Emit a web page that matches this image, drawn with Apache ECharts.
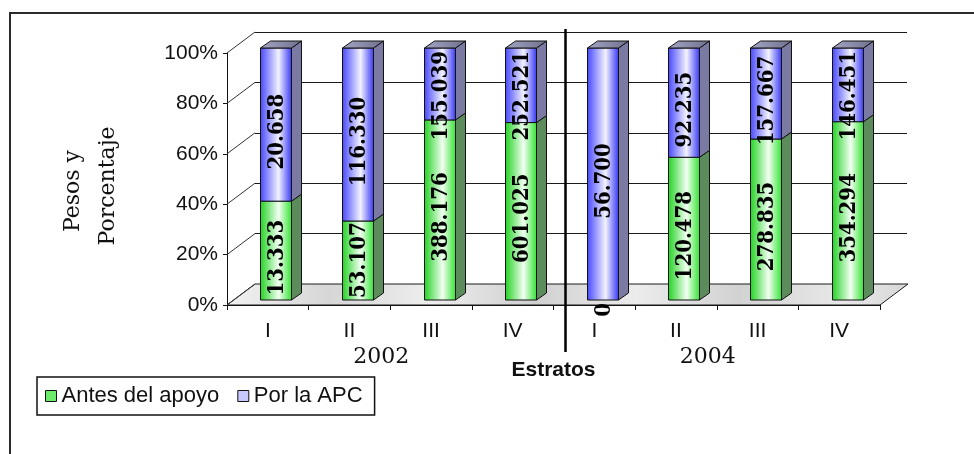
<!DOCTYPE html>
<html>
<head>
<meta charset="utf-8">
<script src="https://cdn.jsdelivr.net/npm/echarts@6/dist/echarts.min.js"></script>
<style>
  html, body { margin: 0; padding: 0; background: #fff; }
  #main { width: 974px; height: 454px; }
</style>
</head>
<body>
<div id="main"></div>
<script>
// Strata per year (2002 block, then 2004 block)
const categories = ['I', 'II', 'III', 'IV', 'I', 'II', 'III', 'IV'];
const years = ['2002', '2004'];
// Pesos before the support and contributed by the APC
const antesDelApoyo = [13333, 53107, 388176, 601025, 0, 120478, 278835, 354294];
const porLaAPC = [20658, 116330, 155039, 252521, 56700, 92235, 157667, 146451];
const yTicks = [0, 20, 40, 60, 80, 100];

// 100% stacking: share of each part within its stratum
const shareAntes = antesDelApoyo.map((a, i) => a / (a + porLaAPC[i]) * 100);

const DX = 28, DY = 21;          // depth of the 3D box (side wall / floor)
const BAR_OX = 8, BAR_OY = -5;   // bar front face pushed into depth
const BAR_DX = 10, BAR_DY = -7;  // bar thickness in depth

const LABEL_FAMILY = '"DejaVu Serif Condensed", "DejaVu Serif", serif';
const LABEL_SIZE = 22;
const measureCtx = document.createElement('canvas').getContext('2d');
measureCtx.font = 'bold ' + LABEL_SIZE + 'px ' + LABEL_FAMILY;

const chart = echarts.init(document.getElementById('main'));

function fmt(n) {
  return String(n).replace(/\B(?=(\d{3})+(?!\d))/g, '.');
}

function barRenderer(faceStops, sideColor) {
  return function (params, api) {
    const i = api.value(0), s = api.value(1), e = api.value(2), raw = api.value(3);
    const band = api.size([1, 0])[0];
    const w = Math.round(band * 0.38);
    const pb = api.coord([i, s]);
    const pt = api.coord([i, e]);
    const xL = Math.round(pb[0] - w / 2 + BAR_OX) + 0.5;
    const xR = xL + w;
    const yB = pb[1] + BAR_OY;
    const yT = pt[1] + BAR_OY;
    const children = [];
    if (yB - yT > 0.5) {
      children.push({
        type: 'polygon',
        shape: { points: [[xR, yT], [xR + BAR_DX, yT + BAR_DY], [xR + BAR_DX, yB + BAR_DY], [xR, yB]] },
        style: { fill: sideColor, stroke: '#111', lineWidth: 1 }
      });
      children.push({
        type: 'rect',
        shape: { x: xL, y: yT, width: w, height: yB - yT },
        style: {
          fill: new echarts.graphic.LinearGradient(0, 0, 1, 0, faceStops),
          stroke: '#111', lineWidth: 1
        }
      });
      if (e >= 99.999) {
        children.push({
          type: 'polygon',
          shape: { points: [[xL, yT], [xL + BAR_DX, yT + BAR_DY], [xR + BAR_DX, yT + BAR_DY], [xR, yT]] },
          style: {
            fill: new echarts.graphic.LinearGradient(0, 0, 1, 0, [
              { offset: 0, color: '#a4a4c4' }, { offset: 1, color: '#70708e' }
            ]),
            stroke: '#111', lineWidth: 1
          }
        });
      }
    }
    // value label, rotated; kept off the bar's base and top ends
    const text = fmt(raw);
    const len = measureCtx.measureText(text).width;
    let cy;
    if (raw === 0) {
      cy = yB + len / 2 + 3;
    } else {
      cy = (yT + yB) / 2 + 7;
      if (s <= 0.001) cy = Math.min(cy, yB - len / 2 - 2);
      if (e >= 99.999) cy = Math.max(cy, yT + len / 2 + 3);
    }
    children.push({
      type: 'text',
      x: xL + w / 2 + 1,
      y: cy,
      rotation: Math.PI / 2,
      style: {
        text: text,
        fontFamily: LABEL_FAMILY,
        fontSize: LABEL_SIZE,
        fontWeight: 'bold',
        fill: '#000',
        align: 'center',
        verticalAlign: 'middle'
      }
    });
    return { type: 'group', children: children };
  };
}

const greenStops = [
  { offset: 0, color: '#1fd21f' },
  { offset: 0.58, color: '#f2fff2' },
  { offset: 1, color: '#2fe42f' }
];
const blueStops = [
  { offset: 0, color: '#4646ff' },
  { offset: 0.58, color: '#f2f2ff' },
  { offset: 1, color: '#3434f4' }
];

const sansFamily = '"Liberation Sans", Arial, sans-serif';

const option = {
  animation: false,
  backgroundColor: '#fff',
  grid: [
    { left: 227, right: 94, top: 53, bottom: 149 },   // front plane
    { left: 255, right: 67, top: 32, bottom: 170 }    // back wall
  ],
  xAxis: [
    {
      type: 'category', gridIndex: 0, data: categories,
      name: 'Estratos', nameLocation: 'middle', nameGap: 55,
      nameTextStyle: { fontFamily: sansFamily, fontSize: 21, fontWeight: 'bold', color: '#111' },
      axisLine: { lineStyle: { color: '#111', width: 1 } },
      axisTick: { show: true, interval: 0, alignWithLabel: false, length: 5, lineStyle: { color: '#111' } },
      axisLabel: { interval: 0, margin: 16, fontFamily: sansFamily, fontSize: 21, color: '#111' },
      splitLine: { show: false }
    },
    {
      type: 'category', gridIndex: 0, data: years, position: 'bottom',
      axisLine: { show: false }, axisTick: { show: false },
      axisLabel: {
        interval: 0, margin: 41, padding: [0, 18, 0, 0],
        fontFamily: '"DejaVu Serif", serif', fontSize: 22, color: '#111'
      },
      splitLine: { show: false }
    },
    { type: 'category', gridIndex: 1, data: categories, show: false }
  ],
  yAxis: [
    {
      type: 'value', gridIndex: 0, min: 0, max: 100, interval: 20,
      axisLine: { show: true, lineStyle: { color: '#111', width: 1 } },
      axisTick: { show: true, length: 4, lineStyle: { color: '#111' } },
      axisLabel: { formatter: '{value}%', margin: 9, fontFamily: sansFamily, fontSize: 21, color: '#111' },
      splitLine: { show: false }
    },
    {
      type: 'value', gridIndex: 1, min: 0, max: 100, interval: 20,
      axisLine: { show: false }, axisTick: { show: false }, axisLabel: { show: false },
      splitLine: { show: true, lineStyle: { color: '#1a1a1a', width: 1 } }
    }
  ],
  legend: {
    left: 37, top: 377,
    orient: 'horizontal',
    padding: [8, 12, 8, 8],
    itemGap: 18, itemWidth: 11, itemHeight: 11,
    borderColor: '#111', borderWidth: 1.5, backgroundColor: '#fff',
    textStyle: { fontFamily: sansFamily, fontSize: 22, color: '#111' },
    data: [
      { name: 'Antes del apoyo', icon: 'rect', itemStyle: { color: '#6cec6c', borderColor: '#111', borderWidth: 1 } },
      { name: 'Por la APC', icon: 'rect', itemStyle: { color: '#c8c8ff', borderColor: '#111', borderWidth: 1 } }
    ]
  },
  graphic: [
    {
      type: 'rect', z: -10, silent: true,
      shape: { x: 10, y: 13, width: 1000, height: 500 },
      style: { fill: 'none', stroke: '#2a2a2a', lineWidth: 2 }
    },
    {
      type: 'text', x: 73, y: 191, rotation: Math.PI / 2,
      style: { text: 'Pesos y', fontFamily: '"DejaVu Serif", serif', fontSize: 22, fill: '#111', align: 'center', verticalAlign: 'middle' }
    },
    {
      type: 'text', x: 108, y: 186, rotation: Math.PI / 2,
      style: { text: 'Porcentaje', fontFamily: '"DejaVu Serif", serif', fontSize: 22, fill: '#111', align: 'center', verticalAlign: 'middle' }
    }
  ],
  series: [
    {
      // floor of the 3D box
      type: 'custom', name: 'piso', xAxisIndex: 0, yAxisIndex: 0, z: 1, clip: false, silent: true,
      data: [[0, 0]],
      renderItem: function (params, api) {
        const cs = params.coordSys;
        const x0 = cs.x, x1 = cs.x + cs.width, y0 = cs.y + cs.height;
        return {
          type: 'polygon',
          shape: { points: [[x0, y0], [x1, y0], [x1 + DX, y0 - DY], [x0 + DX, y0 - DY]] },
          style: {
            fill: new echarts.graphic.LinearGradient(0, 0, 1, 0, [
              { offset: 0, color: '#f2f2f2' }, { offset: 0.15, color: '#d6d6d6' },
              { offset: 0.3, color: '#eeeeee' }, { offset: 0.45, color: '#cfcfcf' },
              { offset: 0.6, color: '#ececec' }, { offset: 0.75, color: '#d2d2d2' },
              { offset: 0.9, color: '#e8e8e8' }, { offset: 1, color: '#d8d8d8' }
            ]),
            stroke: '#1a1a1a', lineWidth: 1
          }
        };
      }
    },
    {
      // side-wall gridlines joining front axis to back wall
      type: 'custom', name: 'pared', xAxisIndex: 0, yAxisIndex: 0, z: 1, clip: false, silent: true,
      data: yTicks.map(v => [0, v]),
      renderItem: function (params, api) {
        const cs = params.coordSys;
        const p = api.coord([0, api.value(1)]);
        return {
          type: 'line',
          shape: { x1: cs.x, y1: p[1], x2: cs.x + DX, y2: p[1] - DY },
          style: { stroke: '#333', lineWidth: 1 }
        };
      }
    },
    {
      type: 'custom', name: 'Antes del apoyo', xAxisIndex: 0, yAxisIndex: 0, z: 3, clip: false,
      itemStyle: { color: '#6cec6c' },
      encode: { x: 0, y: [1, 2] },
      data: antesDelApoyo.map((v, i) => [i, 0, shareAntes[i], v]),
      renderItem: barRenderer(greenStops, '#5c8c5c')
    },
    {
      type: 'custom', name: 'Por la APC', xAxisIndex: 0, yAxisIndex: 0, z: 3, clip: false,
      itemStyle: { color: '#c8c8ff' },
      encode: { x: 0, y: [1, 2] },
      data: porLaAPC.map((v, i) => [i, shareAntes[i], 100, v]),
      renderItem: barRenderer(blueStops, '#7a7aa2')
    },
    {
      // divider between the 2002 and 2004 blocks
      type: 'custom', name: 'division', xAxisIndex: 0, yAxisIndex: 0, z: 4, clip: false, silent: true,
      data: [[3, 0]],
      renderItem: function (params, api) {
        const cs = params.coordSys;
        const band = api.size([1, 0])[0];
        const p = api.coord([api.value(0), api.value(1)]);
        const x = p[0] + band / 2 + 12;
        return {
          type: 'line',
          shape: { x1: x, y1: cs.y - 24, x2: x, y2: p[1] + 47 },
          style: { stroke: '#000', lineWidth: 2.5 }
        };
      }
    }
  ]
};

chart.setOption(option);
</script>
</body>
</html>
